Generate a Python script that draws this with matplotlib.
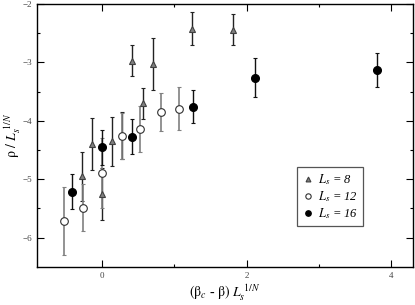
import matplotlib
matplotlib.use("Agg")
import matplotlib.pyplot as plt

plt.rcParams['font.family'] = ['Liberation Serif', 'DejaVu Serif']
plt.rcParams['mathtext.fontset'] = 'stix'

# L_s = 8 (grey triangles)
x8 = [-0.28, -0.14, 0.0, 0.14, 0.28, 0.42, 0.56, 0.70, 1.25, 1.81]
y8 = [-4.95, -4.40, -5.25, -4.35, -4.25, -2.97, -3.70, -3.03, -2.42, -2.44]
e8 = [0.42, 0.45, 0.44, 0.42, 0.40, 0.26, 0.27, 0.45, 0.28, 0.26]

# L_s = 12 (open circles)
x12 = [-0.53, -0.26, 0.0, 0.27, 0.53, 0.81, 1.06]
y12 = [-5.72, -5.49, -4.89, -4.26, -4.14, -3.85, -3.79]
e12 = [0.58, 0.40, 0.60, 0.40, 0.40, 0.33, 0.37]

# L_s = 16 (filled circles)
x16 = [-0.42, 0.0, 0.42, 1.26, 2.11, 3.80]
y16 = [-5.21, -4.45, -4.27, -3.76, -3.26, -3.13]
e16 = [0.30, 0.30, 0.30, 0.28, 0.33, 0.29]

fig = plt.figure(figsize=(4.15, 3.05), dpi=100)
ax = fig.add_axes([0.089, 0.125, 0.906, 0.862])

ax.errorbar(x8, y8, yerr=e8, fmt='^', ms=5, mfc='#808080', mec='#404040', mew=0.8,
            ecolor='#222222', elinewidth=1.0, capsize=1.5, capthick=0.8)
ax.errorbar(x12, y12, yerr=e12, fmt='o', ms=5.5, mfc='white', mec='#303030', mew=0.8,
            ecolor='#808080', elinewidth=1.2, capsize=1.5, capthick=0.8)
ax.errorbar(x16, y16, yerr=e16, fmt='o', ms=5.5, mfc='black', mec='black',
            ecolor='#111111', elinewidth=1.0, capsize=1.5, capthick=0.8)

ax.set_xlim(-0.9, 4.3)
ax.set_ylim(-6.5, -2)
ax.set_xticks([0, 2, 4])
ax.set_xticks([1, 3], minor=True)
ax.set_yticks([-6, -5, -4, -3, -2])
ax.set_yticks([-5.5, -4.5, -3.5, -2.5], minor=True)
ax.tick_params(which='both', direction='in', top=True, right=True, labelsize=6.5,
               labelcolor='#444444', width=0.8)
ax.tick_params(which='major', length=5)
ax.tick_params(which='minor', length=2.5)
for s in ax.spines.values():
    s.set_linewidth(1.0)

ax.set_xlabel(r'$(\mathrm{\beta}_c$ - $\mathrm{\beta})\ L_s^{\ 1/N}$', fontsize=10, labelpad=2)
ax.set_ylabel(r'$\mathrm{\rho}\ /\ L_s^{\ 1/N}$', fontsize=10)
ax.yaxis.set_label_coords(-0.036, 0.5)

handles = [h[0] for h in ax.containers]
leg = ax.legend(handles, [r'$L_s$ = 8', r'$L_s$ = 12', r'$L_s$ = 16'],
                loc='upper left', bbox_to_anchor=(297 / 415, 1 - 167 / 305),
                bbox_transform=fig.transFigure, fancybox=False, framealpha=1,
                edgecolor='#555555', fontsize=9, markerscale=0.7, handlelength=0.9,
                handletextpad=0.4, borderpad=0.4, labelspacing=0.2, borderaxespad=0)
leg.get_frame().set_linewidth(0.9)
for t in leg.get_texts():
    t.set_fontstyle('italic')

fig.savefig('out.png', dpi=100)
